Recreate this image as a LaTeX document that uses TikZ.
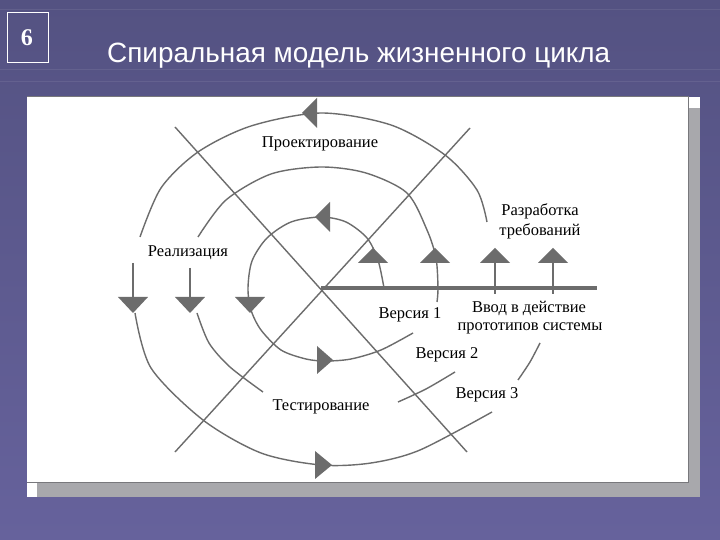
\documentclass[tikz,border=0pt]{standalone}
\usepackage{fontspec}
\setmainfont{Liberation Serif}
\newfontfamily\titlefont{Liberation Sans}
\definecolor{slidetop}{RGB}{84,82,130}
\definecolor{slidebot}{RGB}{102,98,156}
\definecolor{spiral}{RGB}{108,108,108}
\definecolor{shadow}{RGB}{168,168,172}
\definecolor{edge}{RGB}{120,120,124}
\tikzset{
  curve/.style={spiral, line width=1.4pt},
  head/.style={fill=spiral, draw=none},
  lbl/.style={font=\fontsize{16.5}{20}\selectfont, inner sep=0pt, align=center},
}
\begin{document}
\begin{tikzpicture}[x=1pt,y=1pt]
% slide background
\shade[top color=slidetop, bottom color=slidebot] (-321,-252) rectangle (399,288);
\useasboundingbox (-321,-252) rectangle (399,288);
\foreach\y in {278,218,206}
{
\draw[white, opacity=0.08, line width=1pt] (-321,\y) -- (399,\y);
}
% slide number and title
\draw[white, line width=0.8pt] (-314,226) rectangle (-273,276);
\node[white, font=\bfseries\fontsize{24}{24}\selectfont] (num) at (-294,250) {6};
\node[white, anchor=base west, font=\titlefont\fontsize{27.9}{30}\selectfont, inner sep=0pt]
      (title) at (-214,225) {Спиральная модель жизненного цикла};
% picture frame
\fill[shadow] (-284,180) rectangle (379,-209);
\fill[white] (367,191) rectangle (379,180);
\fill[white] (-294,-195) rectangle (-284,-209);
\fill[white] (-294,191) rectangle (367,-195);
\draw[edge, line width=1pt] (-294,191) -- (367,191) -- (367,-195) -- (-294,-195);
% axes
\draw[curve] (-146,161) -- (146,-164);
\draw[curve] (149,160) -- (-146,-164);
\draw[spiral, line width=4.6pt] (0,0) -- (276,0);
% spiral
\draw[curve] plot[smooth] coordinates {(63,0) (57,28) (46,50) (25,66) (0,71) (-30,66) (-54,50)
  (-69,27) (-73,0) (-70,-22) (-60,-42) (-40,-62) (-15,-71) (5,-73) (30,-71) (60,-62) (92,-45)};
\draw[curve] plot[smooth] coordinates {(116,-14) (117,0) (115,30) (106,58) (86,95) (45,115)
  (0,121) (-50,114) (-95,88) (-123,51)};
\draw[curve] plot[smooth] coordinates {(-124,-25) (-112,-55) (-91,-79) (-58,-104)};
\draw[curve] plot[smooth] coordinates {(166,66) (156,98) (124,133) (70,163) (0,175) (-70,162)
  (-123,136) (-160,100) (-181,51)};
\draw[curve] plot[smooth] coordinates {(-186,-25) (-170,-80) (-118,-132) (-60,-165) (0,-177)
  (50,-175) (99,-162) (171,-124)};
\draw[curve] plot[smooth] coordinates {(77,-114) (105,-101) (134,-84)};
\draw[curve] plot[smooth] coordinates {(197,-92) (209,-74) (219,-55)};
\draw[curve] (-188,25) -- (-188,-9);
\draw[curve] (-131,20) -- (-131,-9);
\foreach\x in {174,232}
{
\draw[curve] (\x,-6) -- (\x,25);
}
% arrow heads
\foreach\x in {52,114,174,232}
{
\fill[head] (\x-15,25) -- (\x+15,25) -- (\x,40) -- cycle;
}
\foreach\x in {-188,-131,-71}
{
\fill[head] (\x-15,-9) -- (\x+15,-9) -- (\x,-25) -- cycle;
}
\fill[head] (-4,190) -- (-4,160) -- (-19,175) -- cycle;
\fill[head] (9,86) -- (9,56) -- (-6,71) -- cycle;
\fill[head] (-4,-58) -- (-4,-86) -- (12,-72) -- cycle;
\fill[head] (-6,-163) -- (-6,-191) -- (11,-177) -- cycle;
% labels
\node[lbl] (design) at (-1,144) {Проектирование};
\node[lbl] (reqs) at (219,67) {Разработка\\требований};
\node[lbl] (impl) at (-133,35) {Реализация};
\node[lbl] (v1) at (89,-27) {Версия 1};
\node[lbl] (deploy) at (208,-20) {Ввод в действие};
\node[lbl] (proto) at (209,-40) {прототипов системы};
\node[lbl] (v2) at (126,-67) {Версия 2};
\node[lbl] (v3) at (166,-107) {Версия 3};
\node[lbl] (test) at (0,-119) {Тестирование};
\end{tikzpicture}
\end{document}
